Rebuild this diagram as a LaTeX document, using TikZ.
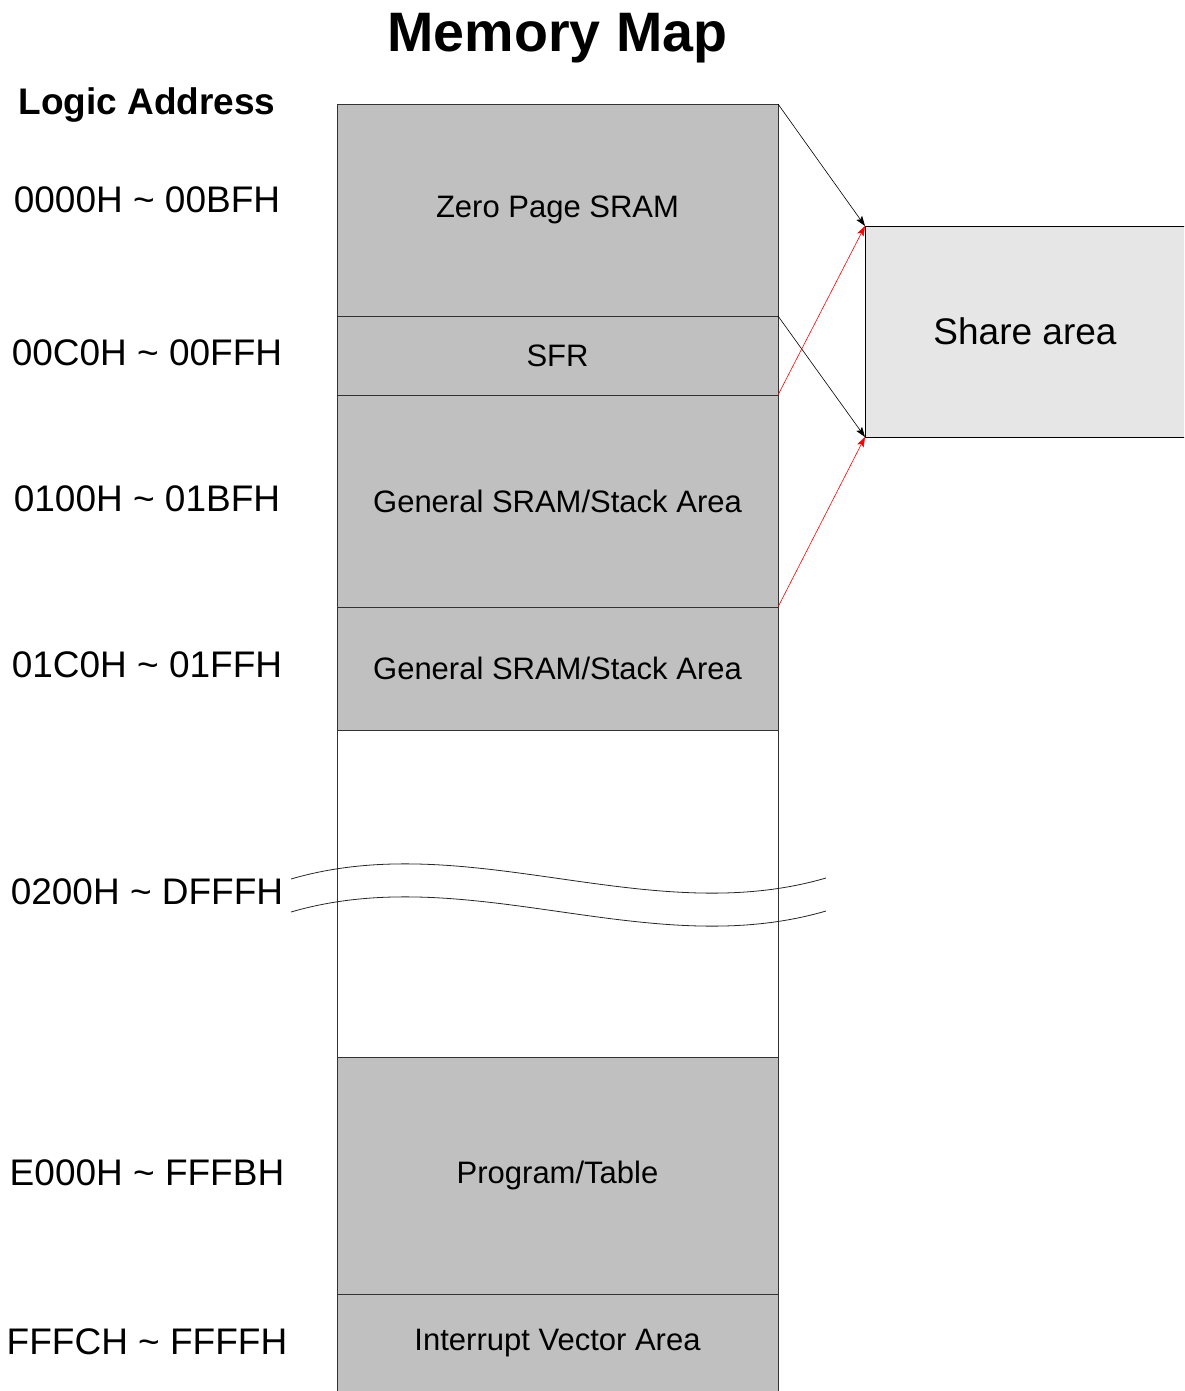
\documentclass[tikz,border=0pt]{standalone}
\usepackage{fontspec}
\setmainfont{Liberation Sans}
\usepackage{xcolor}
\definecolor{memgray}{HTML}{C0C0C0}
\definecolor{sharegray}{HTML}{E6E6E6}
\definecolor{edgegray}{HTML}{333333}
\usetikzlibrary{arrows.meta, positioning}

\begin{document}
\begin{tikzpicture}[
	x=1pt, y=-1pt,
	blk/.style={rectangle, draw=edgegray, fill=memgray, line width=0.8pt, minimum width=441pt,
	            inner sep=0pt, outer sep=0pt, align=center, font=\fontsize{31}{36}\selectfont},
	addr/.style={font=\fontsize{37}{42}\selectfont, inner sep=0pt},
	hdr/.style={font=\fontsize{37}{42}\selectfont\bfseries, inner sep=0pt, anchor=base},
	arr/.style={-{Stealth[length=10pt, width=7pt, inset=2pt]}, line width=0.6pt},
	brk/.style={draw=black!85, line width=0.8pt}
	]
\clip (0,0) rectangle (1184,1391);

% Titel
\node[font=\fontsize{55.6}{60}\selectfont\bfseries, inner sep=0pt, anchor=base] (title) at (557.5,52) {Memory Map};
\node[hdr] (logic) at (147,115) {Logic Address};

% Speicherbloecke untereinander
\node[blk, minimum height=212pt] (zp) at (557.5,210) {Zero Page SRAM};
\node[blk, minimum height=79pt, below=0pt of zp] (sfr) {SFR};
\node[blk, minimum height=212pt, below=0pt of sfr] (gen1) {General SRAM/Stack Area};
\node[blk, minimum height=123pt, below=0pt of gen1] (gen2) {General SRAM/Stack Area};
\node[blk, fill=white, minimum height=327pt, below=0pt of gen2] (gap) {};
\node[blk, minimum height=237pt, below=0pt of gap] (prog) {Program/Table};
\node[blk, minimum height=98pt, below=0pt of prog] (ivt) {Interrupt Vector Area};

% Adressen links
\node[addr] (a1) at (147,200) {0000H \textasciitilde{} 00BFH};
\node[addr] (a2) at (147,353) {00C0H \textasciitilde{} 00FFH};
\node[addr] (a3) at (147,499) {0100H \textasciitilde{} 01BFH};
\node[addr] (a4) at (147,665) {01C0H \textasciitilde{} 01FFH};
\node[addr] (a5) at (147,892) {0200H \textasciitilde{} DFFFH};
\node[addr] (a6) at (147,1173) {E000H \textasciitilde{} FFFBH};
\node[addr] (a7) at (147,1342) {FFFCH \textasciitilde{} FFFFH};

% Share area
\node[rectangle, draw=black, fill=sharegray, line width=0.8pt, minimum width=320pt, minimum height=211pt,
      inner sep=0pt, outer sep=0pt, font=\fontsize{37}{42}\selectfont] (share) at (1025,331.5) {Share area};

\draw[arr] (zp.north east) -- (share.north west);
\draw[arr] (sfr.north east) -- (share.south west);
\draw[arr, red] (gen1.north east) -- (share.north west);
\draw[arr, red] (gen2.north east) -- (share.south west);

% Unterbrechung
\coordinate (bl) at (291,879);
\coordinate (br) at (826,878);
\draw[brk] (bl) .. controls (469,827) and (648,930) .. (br);
\draw[brk] ([yshift=-33pt]bl) .. controls (469,860) and (648,963) .. ([yshift=-33pt]br);

\end{tikzpicture}
\end{document}
